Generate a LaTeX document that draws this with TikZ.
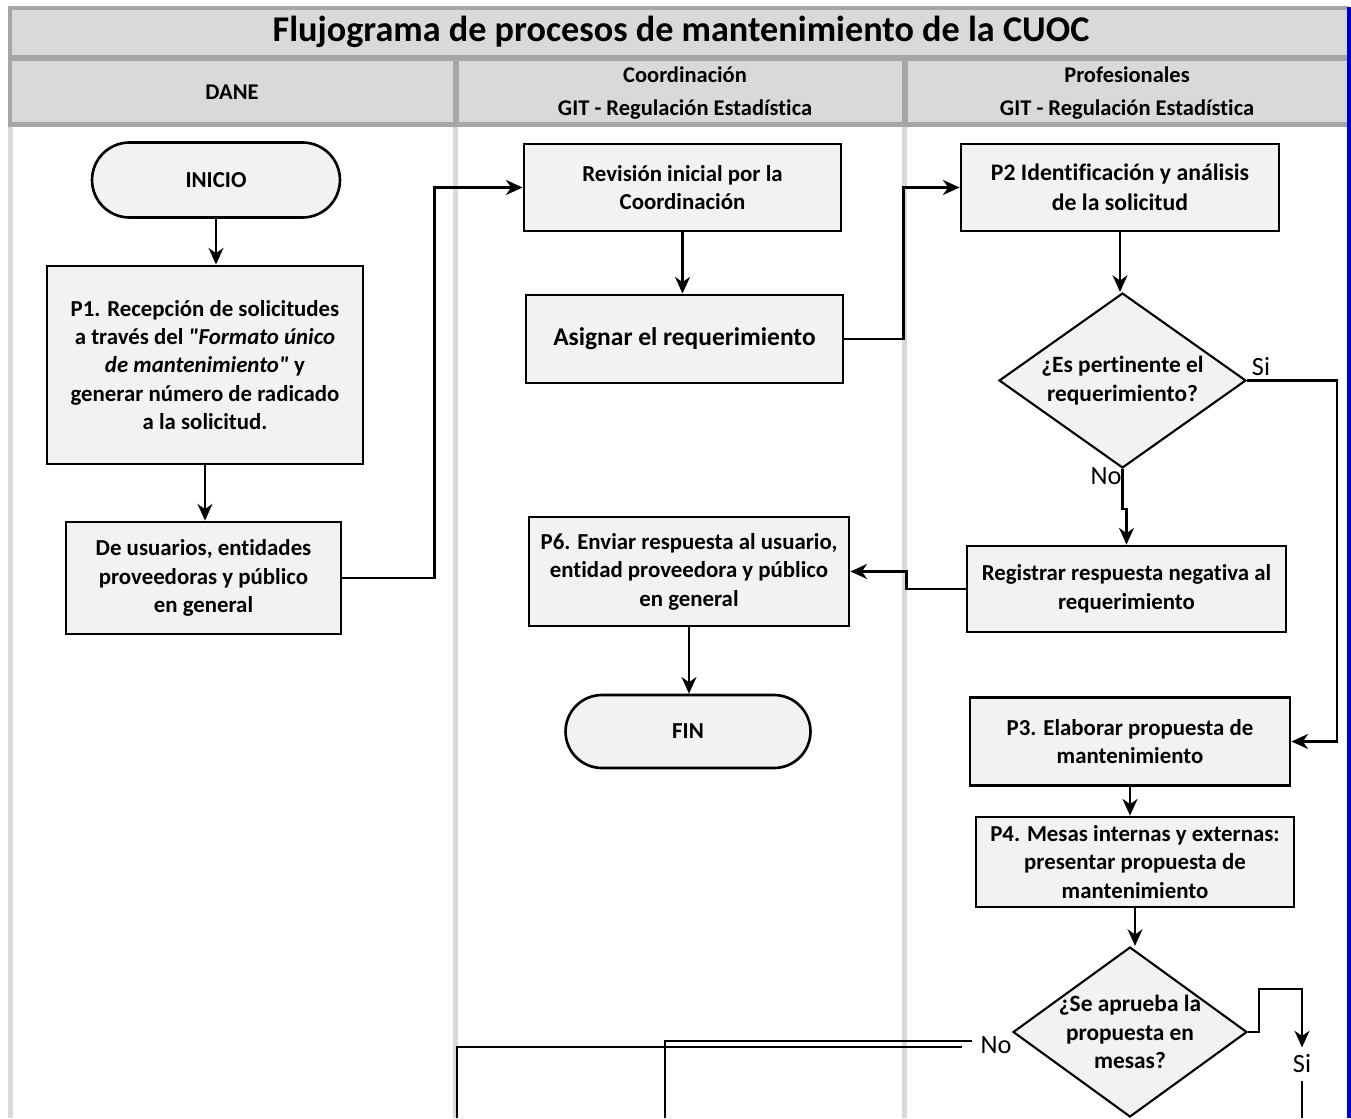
\documentclass[tikz,border=0pt]{standalone}
\usepackage{fontspec}
\setmainfont{Carlito}[Ligatures={TeXOff,NoCommon}]
\usetikzlibrary{arrows.meta,shapes.geometric,shapes.misc,calc}
\definecolor{boxfill}{HTML}{F2F2F2}
\definecolor{lanegray}{HTML}{D9D9D9}
\definecolor{framegray}{HTML}{A6A6A6}
\definecolor{edgeblue}{HTML}{0000CC}
\tikzset{
  proc/.style={draw, line width=1.6pt, fill=boxfill, align=center, inner sep=0pt,
    font=\bfseries\fontsize{13}{16.2}\selectfont},
  term/.style={proc, rounded rectangle, line width=1.5pt},
  decision/.style={diamond, draw, line width=1.2pt, fill=boxfill, inner sep=0pt},
  qtext/.style={font=\bfseries\fontsize{13.3}{16.2}\selectfont, align=center},
  head/.style={font=\bfseries\fontsize{12.8}{19.3}\selectfont, align=center},
  answer/.style={font=\fontsize{15}{18}\selectfont, inner sep=1pt},
  flow/.style={line width=1.4pt, -{Stealth[length=9.5pt,width=8.5pt,inset=3pt]}},
  conn/.style={line width=1.4pt},
}

\begin{document}
\begin{tikzpicture}[x=0.02cm, y=-0.02cm]
\useasboundingbox (0,0) rectangle (1351,1118);
\fill[framegray] (8,6) rectangle (1348,127);
\fill[lanegray] (12,10) rectangle (1348,55);
\fill[lanegray] (12,61) rectangle (453,122);
\fill[lanegray] (459,61) rectangle (902,122);
\fill[lanegray] (908,61) rectangle (1348,122);
\foreach \x in {8,453,902}
  \fill[lanegray] (\x,127) rectangle ++(5,991);
\fill[edgeblue] (1347,7) rectangle (1351,1118);

\node[font=\bfseries\fontsize{20.6}{24}\selectfont] (title) at (681,32) {Flujograma de procesos de mantenimiento de la CUOC};
\node[head] (h1) at (232,92) {DANE};
\node[head] (h2) at (685,93) {Coordinación\\GIT - Regulación Estadística};
\node[head] (h3) at (1127,93) {Profesionales\\GIT - Regulación Estadística};

\node[term, minimum width=4.96cm, minimum height=1.5cm] (inicio) at (216,180) {INICIO};
\node[proc, minimum width=6.32cm, minimum height=3.96cm] (p1) at (205,365)
  {P1. Recepción de solicitudes\\a través del \textit{"Formato único}\\\textit{de mantenimiento"} y\\generar número de radicado\\a la solicitud.};
\node[proc, minimum width=5.5cm, minimum height=2.24cm] (users) at (203.5,578)
  {De usuarios, entidades\\proveedoras y público\\en general};
\node[proc, minimum width=6.34cm, minimum height=1.74cm] (rev) at (682.5,187.5)
  {Revisión inicial por la\\Coordinación};
\node[proc, minimum width=6.34cm, minimum height=1.76cm, font=\bfseries\fontsize{14.5}{17}\selectfont] (asig) at (684.5,339)
  {Asignar el requerimiento};
\node[proc, minimum width=6.36cm, minimum height=1.74cm, font=\bfseries\fontsize{13.5}{16.8}\selectfont] (p2) at (1120,187.5)
  {P2 Identificación y análisis\\de la solicitud};
\node[decision, minimum width=4.94cm, minimum height=3.5cm,
  label={[qtext]center:¿Es pertinente el\\requerimiento?}] (q1) at (1122.5,380.5) {};
\node[proc, minimum width=6.38cm, minimum height=1.72cm] (reg) at (1126.5,589)
  {Registrar respuesta negativa al\\requerimiento};
\node[proc, minimum width=6.4cm, minimum height=2.18cm] (p6) at (689,571.5)
  {P6. Enviar respuesta al usuario,\\entidad proveedora y público\\en general};
\node[term, minimum width=4.9cm, minimum height=1.46cm] (fin) at (688,731.5) {FIN};
\node[proc, minimum width=6.4cm, minimum height=1.76cm] (p3) at (1130,741.5)
  {P3. Elaborar propuesta de\\mantenimiento};
\node[proc, minimum width=6.36cm, minimum height=1.8cm] (p4) at (1135,862)
  {P4. Mesas internas y externas:\\presentar propuesta de\\mantenimiento};
\node[decision, minimum width=4.68cm, minimum height=3.4cm,
  label={[qtext]center:¿Se aprueba la\\propuesta en\\mesas?}] (q2) at (1130,1032) {};

\node[answer] (si1) at (1261,367) {Si};
\node[answer] (no1) at (1106,476) {No};
\node[answer] (no2) at (996,1045) {No};
\node[answer, inner ysep=4pt] (si2) at (1302,1064) {Si};
\coordinate (outa) at (665,1118);
\coordinate (outb) at (457,1118);
\coordinate (outc) at (1302,1118);

\draw[flow] (inicio.south) -- (inicio.south |- p1.north);
\draw[flow] (p1.south) -- (p1.south |- users.north);
\draw[flow] (users.east) -- ++(92,0) |- (rev.west);
\draw[flow] (rev.south) -- (rev.south |- asig.north);
\draw[flow] (asig.east) -- ++(59,0) |- (p2.west);
\draw[flow] (p2.south) -- (p2.south |- q1.north);
\draw[flow] (q1.east) -- ++(90,0) |- (p3.east);
\draw[flow] (q1.south) -- ++(0,40) -| (reg.north);
\draw[flow] (reg.west) -- ++(-59,0) |- (p6.east);
\draw[flow] (p6.south) -- (p6.south |- fin.north);
\draw[flow] (p3.south) -- (p3.south |- p4.north);
\draw[flow] (p4.south) -- (p4.south |- q2.north);
\draw[flow] (q2.east) -- ++(11,0) -- ++(0,-43) -| (si2.north);
\draw[conn] (si2.south) -- (outc);
\draw[conn] ($(no2.west)+(-6,-4)$) -| (outa);
\draw[conn] ($(no2.west)+(-16,2)$) -| (outb);
\end{tikzpicture}
\end{document}
